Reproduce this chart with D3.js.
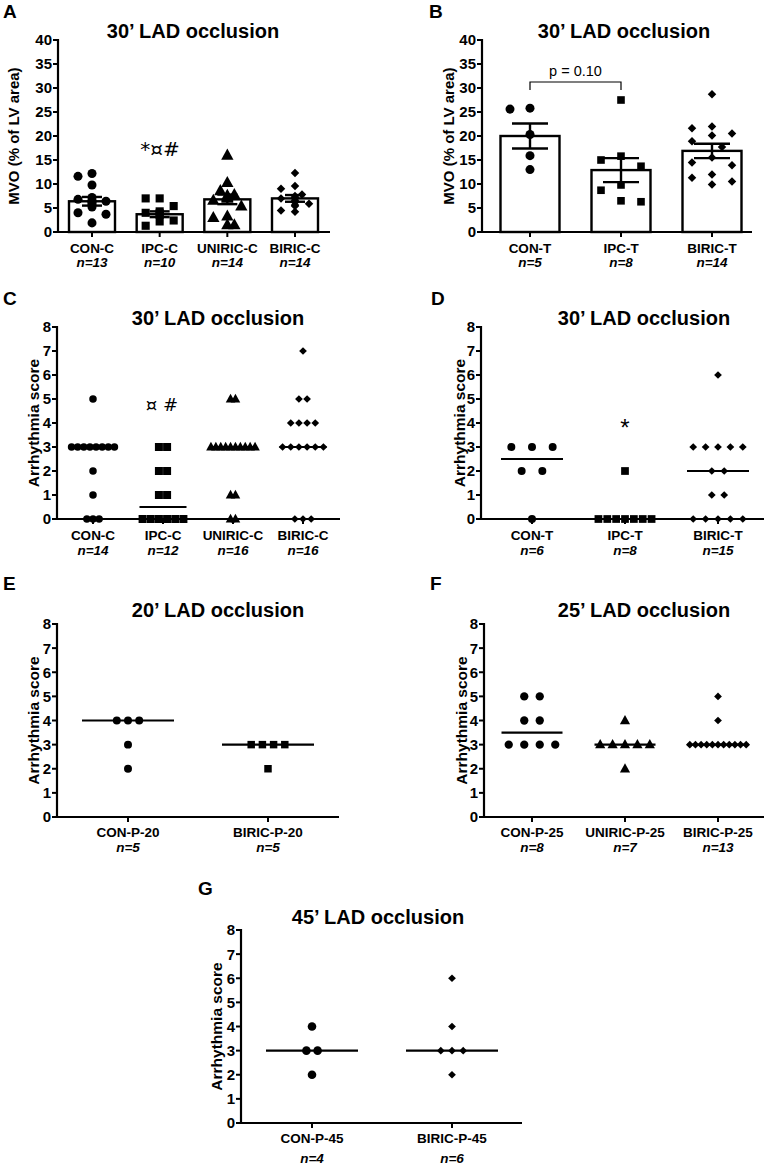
<!DOCTYPE html>
<html><head><meta charset="utf-8">
<script src="https://cdn.jsdelivr.net/npm/d3@7"></script>
<style>
body{margin:0;background:#fff;}
svg text{font-family:"Liberation Sans",Arial,sans-serif;fill:#000;}
</style></head>
<body><svg id="c" width="768" height="1166"></svg>
<script>
// ---------- DATA ----------
// Panel A (MVO, 30' LAD occlusion)
const catsA = ["CON-C","IPC-C","UNIRIC-C","BIRIC-C"];
const nA = ["n=13","n=10","n=14","n=14"];
const meanA = [6.4, 3.7, 6.8, 7.0];
const semA = [0.9, 0.6, 1.0, 0.7];
const valsA_CON = [12.2, 11.6, 9.8, 7.2, 6.8, 6.4, 6.2, 5.8, 5.2, 4.0, 3.7, 1.9, 6.6];
const valsA_IPC = [7.0, 7.0, 5.4, 4.3, 4.0, 3.9, 3.6, 2.4, 2.2, 1.3];
const valsA_UNI = [16.0, 10.3, 8.6, 7.8, 7.6, 7.4, 7.2, 7.0, 6.6, 5.4, 3.3, 3.0, 1.5, 1.5];
const valsA_BI  = [12.3, 9.6, 9.0, 7.8, 7.5, 7.2, 7.0, 6.6, 6.2, 5.9, 5.6, 5.4, 4.5, 4.2];
// Panel B
const catsB = ["CON-T","IPC-T","BIRIC-T"];
const nB = ["n=5","n=8","n=14"];
const meanB = [20.0, 12.9, 16.9];
const semB = [2.6, 2.5, 1.5];
const valsB_CON = [25.8, 25.6, 20.3, 15.9, 13.0];
const valsB_IPC = [27.5, 15.8, 15.0, 13.7, 9.8, 8.7, 6.5, 6.3];
const valsB_BI  = [28.7, 22.0, 21.6, 20.5, 20.1, 18.9, 17.7, 15.5, 14.5, 13.9, 12.0, 11.3, 10.5, 9.9];
const mvoTicks = [0,5,10,15,20,25,30,35,40];
// Panel C (arrhythmia score, 30')
const catsC = ["CON-C","IPC-C","UNIRIC-C","BIRIC-C"];
const nC = ["n=14","n=12","n=16","n=16"];
const valsC_CON = [5,3,3,3,3,3,3,3,3,2,1,0,0,0];
const valsC_IPC = [3,3,2,2,1,1,0,0,0,0,0,0];
const valsC_UNI = [5,5,3,3,3,3,3,3,3,3,3,3,1,1,0,0];
const valsC_BI  = [7,5,5,4,4,4,4,3,3,3,3,3,3,0,0,0];
const medC = [3, 0.5, 3, 3];
// Panel D
const catsD = ["CON-T","IPC-T","BIRIC-T"];
const nD = ["n=6","n=8","n=15"];
const valsD_CON = [3,3,3,2,2,0];
const valsD_IPC = [2,0,0,0,0,0,0,0];
const valsD_BI  = [6,3,3,3,3,3,2,2,1,1,0,0,0,0,0];
const medD = [2.5, 0, 2];
// Panel E (20')
const catsE = ["CON-P-20","BIRIC-P-20"];
const nE = ["n=5","n=5"];
const valsE_CON = [4,4,4,3,2];
const valsE_BI  = [3,3,3,3,2];
const medE = [4, 3];
// Panel F (25')
const catsF = ["CON-P-25","UNIRIC-P-25","BIRIC-P-25"];
const nF = ["n=8","n=7","n=13"];
const valsF_CON = [5,5,4,4,3,3,3,3];
const valsF_UNI = [4,3,3,3,3,3,2];
const valsF_BI  = [5,4,3,3,3,3,3,3,3,3,3,3,3];
const medF = [3.5, 3, 3];
// Panel G (45')
const catsG = ["CON-P-45","BIRIC-P-45"];
const nG = ["n=4","n=6"];
const valsG_CON = [4,3,3,2];
const valsG_BI  = [6,4,3,3,3,2];
const medG = [3, 3];
const scoreTicks = [0,1,2,3,4,5,6,7,8];

// ---------- HELPERS ----------
const svg = d3.select("#c");
const diamond = {draw(ctx,size){const r=Math.sqrt(size/2);ctx.moveTo(0,-r);ctx.lineTo(r,0);ctx.lineTo(0,r);ctx.lineTo(-r,0);ctx.closePath();}};
const triangle = {draw(ctx,size){const w=Math.sqrt(size*2);const h=w*0.9;ctx.moveTo(0,-h*0.6);ctx.lineTo(w/2,h*0.4);ctx.lineTo(-w/2,h*0.4);ctx.closePath();}};
const shapes = {circle:d3.symbolCircle, square:d3.symbolSquare, triangle:triangle, diamond:diamond};

function axes(g, o){
  const y=o.y, x=o.x, yb=y(0);
  g.append("line").attr("x1",o.x0).attr("x2",o.x0).attr("y1",y(o.ticks[o.ticks.length-1])-1).attr("y2",yb+1)
    .attr("stroke","#000").attr("stroke-width",2.2);
  g.append("line").attr("x1",o.x0-1).attr("x2",o.x1).attr("y1",yb).attr("y2",yb)
    .attr("stroke","#000").attr("stroke-width",2.2);
  o.ticks.forEach(t=>{
    g.append("line").attr("x1",o.x0-5).attr("x2",o.x0).attr("y1",y(t)).attr("y2",y(t)).attr("stroke","#000").attr("stroke-width",2);
    g.append("text").attr("x",o.x0-6).attr("y",y(t)).attr("dy","0.36em").attr("text-anchor","end")
      .attr("font-size",15).attr("font-weight","bold").text(t);
  });
  o.cats.forEach((c,i)=>{
    const cx=x(c);
    g.append("line").attr("x1",cx).attr("x2",cx).attr("y1",yb).attr("y2",yb+5).attr("stroke","#000").attr("stroke-width",2);
    g.append("text").attr("x",cx).attr("y",o.labelY).attr("text-anchor","middle").attr("font-size",13.5).attr("font-weight","bold").text(c);
    g.append("text").attr("x",cx).attr("y",o.nY).attr("text-anchor","middle").attr("font-size",13.5).attr("font-weight","bold").attr("font-style","italic").text(o.ns[i]);
  });
  const ym=(y(o.ticks[0])+y(o.ticks[o.ticks.length-1]))/2;
  g.append("text").attr("transform",`translate(${o.titleX},${ym}) rotate(-90)`).attr("text-anchor","middle")
    .attr("dy","0.36em").attr("font-size",o.ytFont).attr("font-weight",o.ytWeight).text(o.ytitle);
  g.append("text").attr("x",o.tx).attr("y",o.ty).attr("text-anchor","middle").attr("font-size",20).attr("font-weight","bold").text(o.title);
  g.append("text").attr("x",o.lx).attr("y",o.ly).attr("font-size",19).attr("font-weight","bold").text(o.letter);
}

function swarm(vals, y, sx, sy, step, maxOff){
  const placed=[];
  return vals.map(v=>{
    const py=y(v); let best=null;
    for(let k=0;k<60;k++){
      const off = k===0?0:(k%2?-1:1)*Math.ceil(k/2)*step;
      if(Math.abs(off)>maxOff) continue;
      if(placed.every(p=>((p.x-off)/sx)**2+((p.y-py)/sy)**2>=1)){best=off;break;}
    }
    if(best===null) best=0;
    placed.push({x:best,y:py}); return best;
  });
}

function rowOffsets(vals, colWidth, cap){
  const counts=d3.rollup(vals,v=>v.length,d=>d);
  const maxRow=d3.max(counts.values());
  const sp=Math.min(cap, colWidth/maxRow);
  const seen=new Map();
  return vals.map(v=>{const k=counts.get(v);const i=seen.get(v)||0;seen.set(v,i+1);return (i-(k-1)/2)*sp;});
}

function points(g, cx, vals, offs, y, shape, size){
  const sym=d3.symbol().type(shapes[shape]).size(size);
  g.selectAll(null).data(vals).enter().append("path")
    .attr("d",sym).attr("fill","#000")
    .attr("transform",(v,i)=>`translate(${cx+offs[i]},${y(v)})`);
}

// ---------- PANEL A ----------
(function(){
  const g=svg.append("g");
  const y=d3.scaleLinear().domain([0,40]).range([232,40]);
  const x=d3.scalePoint().domain(catsA).range([92,295]);
  const groups=[valsA_CON,valsA_IPC,valsA_UNI,valsA_BI];
  const sh=["circle","square","triangle","diamond"];
  const bw=46;
  catsA.forEach((c,i)=>{
    g.append("rect").attr("x",x(c)-bw/2).attr("y",y(meanA[i])).attr("width",bw).attr("height",y(0)-y(meanA[i]))
      .attr("fill","#fff").attr("stroke","#000").attr("stroke-width",2.4);
  });
  catsA.forEach((c,i)=>{
    const offs=swarm(groups[i],y,14,9,7,20);
    points(g,x(c),groups[i],offs,y,sh[i],sh[i]==="diamond"?36:sh[i]==="triangle"?76:sh[i]==="square"?66:64);
  });
  catsA.forEach((c,i)=>{
    const cx=x(c), hi=y(meanA[i]+semA[i]), lo=y(meanA[i]-semA[i]);
    g.append("line").attr("x1",cx).attr("x2",cx).attr("y1",hi).attr("y2",lo).attr("stroke","#000").attr("stroke-width",2.4);
    [hi,lo].forEach(yy=>g.append("line").attr("x1",cx-10).attr("x2",cx+10).attr("y1",yy).attr("y2",yy).attr("stroke","#000").attr("stroke-width",2.4));
  });
  axes(g,{x0:58,x1:330,y,x,ticks:mvoTicks,cats:catsA,ns:nA,labelY:253,nY:267,ytitle:"MVO (% of LV area)",titleX:14,ytFont:15,ytWeight:"bold",
    title:"30\u2019 LAD occlusion",tx:193,ty:38,letter:"A",lx:3,ly:18});
  g.append("text").attr("x",160).attr("y",156).attr("text-anchor","middle").attr("font-size",20)
    .style("font-family","'DejaVu Sans',sans-serif").text("*\u00A4#");
})();

// ---------- PANEL B ----------
(function(){
  const g=svg.append("g");
  const y=d3.scaleLinear().domain([0,40]).range([232,40]);
  const x=d3.scalePoint().domain(catsB).range([530,712]);
  const groups=[valsB_CON,valsB_IPC,valsB_BI];
  const sh=["circle","square","diamond"];
  const bw=59;
  catsB.forEach((c,i)=>{
    g.append("rect").attr("x",x(c)-bw/2).attr("y",y(meanB[i])).attr("width",bw).attr("height",y(0)-y(meanB[i]))
      .attr("fill","#fff").attr("stroke","#000").attr("stroke-width",2.4);
  });
  catsB.forEach((c,i)=>{
    const offs=swarm(groups[i],y,20,12,10,24);
    points(g,x(c),groups[i],offs,y,sh[i],sh[i]==="diamond"?36:sh[i]==="square"?58:64);
  });
  catsB.forEach((c,i)=>{
    const cx=x(c), hi=y(meanB[i]+semB[i]), lo=y(meanB[i]-semB[i]);
    g.append("line").attr("x1",cx).attr("x2",cx).attr("y1",hi).attr("y2",lo).attr("stroke","#000").attr("stroke-width",2.4);
    [hi,lo].forEach(yy=>g.append("line").attr("x1",cx-18).attr("x2",cx+18).attr("y1",yy).attr("y2",yy).attr("stroke","#000").attr("stroke-width",2.4));
  });
  axes(g,{x0:482,x1:752,y,x,ticks:mvoTicks,cats:catsB,ns:nB,labelY:253,nY:267,ytitle:"MVO (% of LV area)",titleX:449,ytFont:15,ytWeight:"bold",
    title:"30\u2019 LAD occlusion",tx:624,ty:38,letter:"B",lx:429,ly:18});
  const x1=x(catsB[0]), x2=x(catsB[1]);
  g.append("path").attr("d",`M${x1},90V82H${x2}V90`).attr("fill","none").attr("stroke","#000").attr("stroke-width",1.2);
  g.append("text").attr("x",(x1+x2)/2).attr("y",76).attr("text-anchor","middle").attr("font-size",14.5).text("p = 0.10");
})();

// ---------- DOT PLOT PANELS ----------
function dotPanel(o){
  const g=svg.append("g");
  const y=d3.scaleLinear().domain([0,8]).range([o.yb,o.yt]);
  const x=d3.scalePoint().domain(o.cats).range(o.xr);
  o.cats.forEach((c,i)=>{
    const offs=rowOffsets(o.groups[i],o.colWidth,o.cap);
    const s=o.sh[i];
    points(g,x(c),o.groups[i],offs,y,s,s==="diamond"?o.dsz:s==="triangle"?o.tsz:s==="square"?o.ssz:o.csz);
    g.append("line").attr("x1",x(c)-o.mw/2).attr("x2",x(c)+o.mw/2).attr("y1",y(o.med[i])).attr("y2",y(o.med[i]))
      .attr("stroke","#000").attr("stroke-width",2.2);
  });
  axes(g,{x0:o.x0,x1:o.x1,y,x,ticks:scoreTicks,cats:o.cats,ns:o.ns,labelY:o.labelY,nY:o.nY,ytitle:"Arrhythmia score",titleX:o.titleX,ytFont:15.5,ytWeight:"bold",
    title:o.title,tx:o.tx,ty:o.ty,letter:o.letter,lx:o.lx,ly:o.ly});
  return {g,x,y};
}

const pC=dotPanel({cats:catsC,ns:nC,groups:[valsC_CON,valsC_IPC,valsC_UNI,valsC_BI],med:medC,sh:["circle","square","triangle","diamond"],
  yb:519,yt:327,xr:[93,303],x0:57,x1:340,colWidth:49,cap:99,mw:47,csz:44,ssz:64,tsz:46,dsz:30,
  labelY:540,nY:555,titleX:33,title:"30\u2019 LAD occlusion",tx:218,ty:325,letter:"C",lx:3,ly:305});
pC.g.append("text").attr("x",162).attr("y",411).attr("text-anchor","middle").attr("font-size",18)
  .style("font-family","'DejaVu Sans',sans-serif").text("\u00A4 #");

const pD=dotPanel({cats:catsD,ns:nD,groups:[valsD_CON,valsD_IPC,valsD_BI],med:medD,sh:["circle","square","diamond"],
  yb:519,yt:327,xr:[532,718],x0:481,x1:764,colWidth:62,cap:99,mw:62,csz:50,ssz:60,tsz:44,dsz:30,
  labelY:540,nY:555,titleX:459,title:"30\u2019 LAD occlusion",tx:644,ty:325,letter:"D",lx:431,ly:305});
pD.g.append("text").attr("x",625).attr("y",436).attr("text-anchor","middle").attr("font-size",24).text("*");

dotPanel({cats:catsE,ns:nE,groups:[valsE_CON,valsE_BI],med:medE,sh:["circle","square"],
  yb:817,yt:624,xr:[128,268],x0:57,x1:339,colWidth:99,cap:11.2,mw:92,csz:50,ssz:56,tsz:44,dsz:30,
  labelY:837,nY:852,titleX:33,title:"20\u2019 LAD occlusion",tx:218,ty:617,letter:"E",lx:3,ly:590});

dotPanel({cats:catsF,ns:nF,groups:[valsF_CON,valsF_UNI,valsF_BI],med:medF,sh:["circle","triangle","diamond"],
  yb:817,yt:624,xr:[532,718],x0:484,x1:764,colWidth:62,cap:99,mw:61,csz:54,ssz:52,tsz:52,dsz:30,
  labelY:837,nY:852,titleX:461,title:"25\u2019 LAD occlusion",tx:644,ty:617,letter:"F",lx:430,ly:590});

dotPanel({cats:catsG,ns:nG,groups:[valsG_CON,valsG_BI],med:medG,sh:["circle","diamond"],
  yb:1123,yt:930,xr:[312,452],x0:241,x1:522,colWidth:99,cap:11.2,mw:92,csz:58,ssz:52,tsz:44,dsz:30,
  labelY:1143,nY:1163,titleX:216,title:"45\u2019 LAD occlusion",tx:378,ty:924,letter:"G",lx:198,ly:895});
</script></body></html>
